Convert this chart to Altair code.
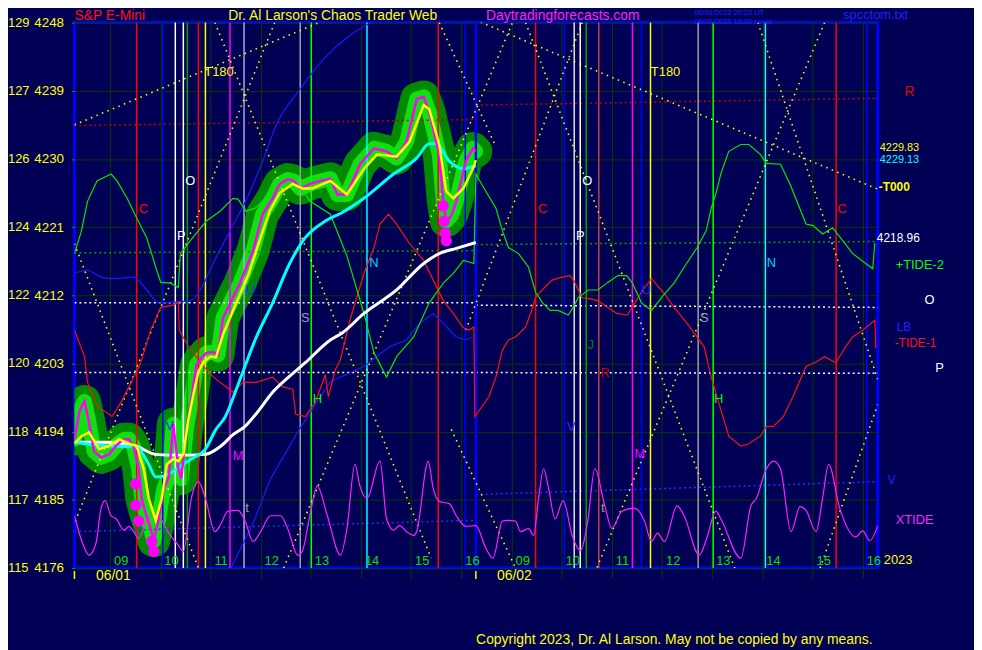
import altair as alt
import pandas as pd

FONT = "Liberation Sans"
BG = "#000055"

# ---------------- axes ----------------
price_ticks = [4248, 4239, 4230, 4221, 4212, 4203, 4194, 4185, 4176]
alt_scale = [129, 127, 126, 124, 122, 120, 118, 117, 115]
# x = session hours: day 1 (06/01) clock hours, day 2 (06/02) clock hours + 8
hour_ticks = [9, 10, 11, 12, 13, 14, 15, 16, 17, 18, 19, 20, 21, 22, 23, 24]
hour_labels = ["09", "10", "11", "12", "13", "14", "15", "16"] * 2
day_start = [8.29, 16.29]
day_labels = ["06/01", "06/02"]
day_label_t = [8.72, 16.71]
X_DOMAIN = [8.29, 24.30]
Y_DOMAIN = [4176, 4248]

# ---------------- price (day 1) ----------------
price_t = [8.29, 8.39, 8.49, 8.57, 8.68, 8.82, 8.98, 9.14, 9.28, 9.38, 9.47, 9.57, 9.63, 9.71, 9.81, 9.87,
           9.97, 10.07, 10.17, 10.26, 10.36, 10.42, 10.52, 10.62, 10.72, 10.82, 10.92, 11.06, 11.15, 11.25,
           11.39, 11.59, 11.85, 12.04, 12.24, 12.38, 12.54, 12.66, 12.79, 12.99, 13.19, 13.39, 13.53, 13.72,
           13.98, 14.26, 14.51, 14.71, 14.91, 15.11, 15.25, 15.36, 15.56, 15.64, 15.70, 15.80, 15.90, 16.09,
           16.23, 16.29]
price_v = [4193.0, 4196.7, 4198.0, 4195.6, 4191.4, 4190.6, 4191.0, 4192.3, 4193.0, 4193.0, 4192.0, 4189.1,
           4185.2, 4183.2, 4181.2, 4179.6, 4182.5, 4186.5, 4188.0, 4195.0, 4189.1, 4187.8, 4194.3, 4198.3,
           4202.8, 4203.7, 4204.4, 4204.5, 4204.1, 4209.0, 4210.9, 4213.6, 4217.9, 4222.7, 4224.8, 4226.7,
           4227.3, 4227.1, 4226.1, 4226.7, 4227.1, 4227.4, 4225.3, 4225.3, 4229.3, 4231.4, 4231.0, 4230.1,
           4232.3, 4237.9, 4238.2, 4236.2, 4230.6, 4224.4, 4221.8, 4222.5, 4224.4, 4229.7, 4231.4, 4231.0]

# smoothed price (yellow)
smooth_t = [8.29, 8.43, 8.58, 8.78, 8.98, 9.18, 9.38, 9.53, 9.67, 9.77, 9.91, 10.03, 10.13, 10.26, 10.36,
            10.46, 10.56, 10.66, 10.76, 10.86, 11.00, 11.11, 11.25, 11.45, 11.75, 11.98, 12.18, 12.38, 12.64,
            12.83, 13.03, 13.39, 13.72, 14.06, 14.32, 14.71, 14.97, 15.25, 15.36, 15.56, 15.70, 15.84, 16.04,
            16.23, 16.29]
smooth_v = [4192.4, 4193.4, 4193.9, 4191.7, 4192.1, 4193.0, 4192.4, 4192.1, 4189.1, 4185.2, 4182.3, 4185.2,
            4189.7, 4190.4, 4190.1, 4191.0, 4195.6, 4198.9, 4201.9, 4203.2, 4203.9, 4203.8, 4206.8, 4210.0,
            4214.6, 4219.2, 4223.1, 4225.5, 4226.7, 4226.1, 4226.1, 4227.1, 4225.3, 4228.7, 4230.6, 4230.3,
            4232.3, 4237.1, 4236.6, 4231.9, 4225.7, 4224.8, 4226.1, 4228.7, 4229.83]

# cyan average
cyan_t = [8.29, 8.98, 9.51, 9.77, 9.91, 10.17, 10.46, 10.62, 10.90, 11.11, 11.29, 11.55, 11.91, 12.24, 12.58,
          12.89, 13.29, 13.62, 14.06, 14.65, 15.11, 15.36, 15.50, 15.76, 16.04, 16.29]
cyan_v = [4192.6, 4192.1, 4192.0, 4189.7, 4188.0, 4188.4, 4189.7, 4190.4, 4191.7, 4194.3, 4195.9, 4200.2,
          4206.4, 4211.0, 4216.2, 4219.6, 4221.8, 4222.9, 4224.8, 4228.0, 4230.1, 4232.0, 4232.0, 4229.7,
          4228.7, 4229.13]

# white average
white_t = [8.29, 8.98, 9.51, 9.91, 10.17, 10.56, 10.90, 11.21, 11.45, 11.69, 11.94, 12.24, 12.54, 12.89,
           13.39, 13.62, 14.06, 14.71, 15.25, 15.56, 15.90, 16.29]
white_v = [4192.6, 4192.6, 4192.1, 4191.0, 4190.9, 4190.9, 4191.0, 4192.1, 4193.6, 4194.7, 4196.6, 4199.2,
           4201.1, 4203.1, 4206.1, 4207.0, 4209.6, 4212.7, 4216.2, 4217.5, 4218.2, 4218.96]

# +TIDE-2 (green)
tide2_t = [8.29, 8.43, 8.55, 8.74, 9.02, 9.14, 9.34, 9.53, 9.73, 9.93, 10.01, 10.21, 10.36, 10.40, 10.60,
           10.92, 11.19, 11.45, 11.55, 11.71, 11.89, 12.24, 12.64, 12.99, 13.39, 13.72, 14.06, 14.26, 14.51,
           14.71, 15.05, 15.36, 15.64, 15.84, 16.04, 16.25, 16.29, 16.49, 16.69, 16.82, 16.94, 17.14, 17.34,
           17.48, 17.62, 17.77, 17.93, 18.13, 18.23, 18.33, 18.53, 18.72, 18.92, 19.12, 19.30, 19.41, 19.59,
           19.79, 20.05, 20.24, 20.44, 20.70, 20.88, 20.98, 21.07, 21.17, 21.33, 21.57, 21.73, 21.96, 22.08,
           22.36, 22.55, 22.87, 23.01, 23.20, 23.40, 23.60, 23.80, 24.06, 24.20, 24.24]
tide2_v = [4217.5, 4220.5, 4224.4, 4227.1, 4228.0, 4227.1, 4224.8, 4222.2, 4219.6, 4215.3, 4213.7, 4213.6,
           4213.0, 4217.5, 4219.2, 4221.8, 4223.1, 4224.8, 4224.7, 4223.1, 4223.5, 4225.7, 4227.7, 4224.4,
           4222.7, 4217.2, 4209.6, 4204.4, 4201.2, 4203.9, 4206.5, 4211.0, 4213.6, 4214.9, 4216.6, 4216.2,
           4228.0, 4225.7, 4223.5, 4220.5, 4218.3, 4217.5, 4215.7, 4212.4, 4211.0, 4210.0, 4210.0, 4209.4,
           4210.4, 4211.7, 4212.7, 4212.7, 4213.7, 4214.6, 4214.6, 4213.6, 4211.0, 4210.0, 4212.2, 4213.6,
           4215.7, 4218.3, 4220.5, 4223.5, 4225.3, 4228.0, 4231.0, 4231.9, 4231.9, 4230.6, 4229.4, 4229.3,
           4226.7, 4221.4, 4221.2, 4220.1, 4220.9, 4219.2, 4217.5, 4216.2, 4215.5, 4218.9]

# -TIDE-1 (red)
tide1_t = [8.29, 8.49, 8.55, 8.74, 9.04, 9.22, 9.42, 9.61, 9.81, 10.01, 10.26, 10.36, 10.38, 10.52, 10.80,
           11.06, 11.45, 11.65, 11.91, 12.24, 12.44, 12.64, 12.70, 12.89, 13.09, 13.29, 13.35, 13.49, 13.59,
           13.78, 14.06, 14.26, 14.38, 14.55, 14.71, 14.97, 15.25, 15.44, 15.64, 15.84, 16.04, 16.15, 16.25,
           16.27, 16.55, 16.69, 16.82, 16.94, 17.08, 17.28, 17.38, 17.48, 17.61, 17.81, 18.01, 18.17, 18.27,
           18.40, 18.52, 18.72, 18.92, 19.10, 19.31, 19.45, 19.59, 19.79, 20.05, 20.24, 20.50, 20.84, 20.98,
           21.17, 21.33, 21.57, 21.73, 21.96, 22.08, 22.22, 22.42, 22.61, 22.87, 23.07, 23.24, 23.46, 23.66,
           23.80, 24.00, 24.24, 24.26]
tide1_v = [4207.4, 4203.9, 4200.5, 4197.4, 4196.0, 4197.9, 4200.5, 4203.1, 4207.4, 4210.4, 4210.7, 4211.1,
           4207.4, 4205.7, 4203.1, 4201.2, 4199.2, 4200.5, 4200.5, 4201.2, 4199.9, 4199.6, 4196.3, 4196.0,
           4197.9, 4201.5, 4198.6, 4202.2, 4203.5, 4208.7, 4214.9, 4218.3, 4221.4, 4222.7, 4221.4, 4218.8,
           4216.6, 4214.0, 4211.3, 4209.6, 4207.7, 4207.4, 4207.8, 4196.0, 4198.6, 4201.2, 4204.8, 4206.1,
           4206.5, 4207.8, 4209.6, 4211.7, 4212.7, 4214.0, 4214.4, 4214.6, 4213.6, 4211.7, 4211.6, 4211.3,
           4210.4, 4209.6, 4209.4, 4210.9, 4212.4, 4214.2, 4212.2, 4210.4, 4208.3, 4205.2, 4201.2, 4196.9,
           4193.4, 4192.1, 4192.4, 4193.4, 4194.7, 4194.7, 4196.0, 4198.6, 4202.6, 4203.2, 4203.9, 4203.1,
           4205.2, 4206.5, 4207.4, 4208.7, 4205.0]

# blue lines (day 1)
blue1_t = [8.29, 8.55, 8.82, 9.08, 9.47, 9.73, 9.97, 10.26, 10.60, 10.80, 11.06, 11.39, 11.75, 12.04, 12.34,
           12.74, 13.33, 13.72, 14.12, 14.51]
blue1_v = [4214.9, 4215.3, 4214.4, 4214.2, 4214.4, 4212.7, 4211.0, 4211.1, 4211.3, 4212.7, 4216.3, 4220.5,
           4225.1, 4229.7, 4234.9, 4238.8, 4243.7, 4246.0, 4247.7, 4249.0]
blue2_t = [11.41, 11.85, 12.20, 12.77, 13.39, 14.06, 14.57, 14.91, 15.17, 15.44, 15.64, 15.90, 16.09, 16.23]
blue2_v = [4176.0, 4181.9, 4187.8, 4194.3, 4200.6, 4202.6, 4205.2, 4206.1, 4208.3, 4209.6, 4208.3, 4206.5,
           4206.1, 4206.5]

# XTIDE (magenta, lower)
xtide_t = [8.29, 8.45, 8.58, 8.72, 8.82, 8.90, 9.02, 9.12, 9.28, 9.38, 9.47, 9.57, 9.71, 9.87, 10.01, 10.17,
           10.36, 10.46, 10.62, 10.76, 10.90, 11.09, 11.19, 11.35, 11.55, 11.69, 11.85, 12.00, 12.20, 12.40,
           12.54, 12.74, 12.83, 12.97, 13.13, 13.33, 13.59, 13.72, 13.88, 13.98, 14.12, 14.38, 14.51, 14.65,
           14.77, 14.91, 15.05, 15.11, 15.34, 15.44, 15.56, 15.76, 15.90, 16.09, 16.29, 16.49, 16.63, 16.82,
           16.94, 17.08, 17.18, 17.34, 17.44, 17.54, 17.64, 17.73, 17.87, 18.03, 18.21, 18.37, 18.52, 18.66,
           18.86, 19.00, 19.20, 19.45, 19.65, 19.79, 19.91, 20.05, 20.30, 20.44, 20.74, 20.90, 21.07, 21.17,
           21.57, 21.77, 21.88, 22.08, 22.22, 22.36, 22.57, 22.75, 22.87, 23.07, 23.20, 23.32, 23.54, 23.86,
           24.00, 24.14, 24.30]
xtide_v = [4182.9, 4179.3, 4177.7, 4179.3, 4183.9, 4184.9, 4182.9, 4182.5, 4181.0, 4181.5, 4180.8, 4179.9,
           4181.9, 4183.2, 4182.5, 4180.6, 4179.0, 4178.2, 4185.2, 4187.4, 4185.2, 4180.8, 4181.6, 4183.5,
           4183.6, 4182.2, 4179.5, 4180.8, 4182.9, 4182.9, 4181.2, 4177.7, 4178.2, 4182.5, 4186.8, 4182.9,
           4177.7, 4181.2, 4189.7, 4186.8, 4185.2, 4190.1, 4182.5, 4181.0, 4181.6, 4180.8, 4180.3, 4180.8,
           4190.1, 4186.5, 4184.8, 4184.5, 4182.9, 4181.5, 4181.6, 4178.6, 4177.3, 4182.2, 4182.3, 4182.2,
           4180.8, 4181.2, 4180.3, 4185.2, 4189.1, 4186.8, 4182.5, 4184.9, 4180.3, 4178.3, 4182.2, 4189.1,
           4184.2, 4181.2, 4183.5, 4183.9, 4182.2, 4179.5, 4180.6, 4179.5, 4184.2, 4182.9, 4177.7, 4180.1,
           4183.5, 4182.5, 4177.3, 4184.2, 4185.2, 4189.1, 4190.1, 4189.1, 4180.8, 4184.1, 4183.6, 4180.8,
           4185.2, 4189.7, 4183.9, 4180.1, 4180.9, 4179.6, 4181.6]

# magenta marker dots at the lows
dot_t = [9.51, 9.51, 9.57, 9.83, 9.87, 15.64, 15.66, 15.68, 15.70]
dot_v = [4187.1, 4184.3, 4182.2, 4179.5, 4178.2, 4223.8, 4221.8, 4220.2, 4219.2]

# horizontal dotted levels (per day)
lvl_id = ["R1", "R1", "R2", "R2", "G1", "G1", "G2", "G2", "O1", "O1", "O2", "O2", "P1", "P1", "P2", "P2",
          "V1", "V1", "V2", "V2"]
lvl_col = ["#c00000"] * 4 + ["#00a000"] * 4 + ["#ffffff"] * 8 + ["#2030ff"] * 4
lvl_t = [8.29, 16.29, 16.29, 24.30] * 5
lvl_v = [4234.4, 4235.2, 4237.1, 4238.0, 4217.6, 4217.9, 4218.7, 4219.1, 4211.0, 4211.0, 4210.7, 4210.4,
         4201.8, 4201.8, 4201.8, 4201.7, 4180.8, 4182.3, 4185.7, 4187.4]

# yellow dotted angle lines
ang_id = ["T180"] * 3 + ["a", "a", "b", "b", "c", "c", "d", "d", "e", "e", "f", "f", "g", "g",
                         "h1", "h1", "h2", "h2", "i", "i", "j", "j"]
ang_t = [8.29, 14.79, 24.30, 11.09, 15.40, 12.28, 8.29, 8.29, 10.76, 12.46, 17.02, 15.56, 16.69,
         17.28, 21.45, 18.41, 16.09, 21.91, 24.30, 23.24, 18.70, 15.80, 17.08, 23.15, 24.30]
ang_v = [4234.5, 4252.5, 4226.0, 4248.0, 4177.3, 4248.0, 4181.9, 4218.8, 4176.0, 4176.0, 4248.0, 4248.0,
         4231.6, 4248.0, 4176.0, 4248.0, 4207.4, 4248.0, 4200.9, 4248.0, 4176.0, 4194.3, 4176.0, 4176.0,
         4197.6]

# vertical event lines
vl_t = [9.53, 10.05, 10.30, 10.46, 10.54, 10.76, 10.90, 11.39, 11.67, 12.79, 13.01, 14.12, 15.54, 16.08,
        17.48, 18.05, 18.25, 18.37, 18.49, 18.74, 19.41, 19.59, 19.77, 20.72, 21.02, 22.06, 23.47, 24.08]
vl_col = ["#ff0000", "#0000ff", "#ffffff", "#ffffff", "#00a000", "#ff0000", "#ffff00", "#ff00ff", "#a8a8e0",
          "#a0a0a0", "#00ff00", "#00ffff", "#ff0000", "#0000ff",
          "#ff0000", "#0000ff", "#e0e0ff", "#ffffff", "#00a000", "#c04040", "#ff00ff", "#0000ff", "#ffff00",
          "#a0a0a0", "#00ff00", "#00ffff", "#ff0000", "#0000ff"]

# event letters
ev_txt = ["C", "C", "C", "O", "O", "P", "P", "S", "S", "N", "N", "H", "H", "M", "M", "t", "t", "J", "R",
          "V", "V", "U", "U", "T180", "T180"]
ev_col = ["#ff0000"] * 3 + ["#ffffff"] * 4 + ["#a0a0c0"] * 2 + ["#00d0ff"] * 2 + ["#00ff00"] * 2 + \
         ["#ff00ff"] * 2 + ["#a0a0a0"] * 2 + ["#008000", "#c00000"] + ["#2030ff"] * 4 + ["#ffff00"] * 2
ev_t = [9.67, 17.62, 23.59, 10.60, 18.51, 10.42, 18.37, 12.89, 20.84, 14.26, 22.18, 13.13, 21.13, 11.55,
        19.56, 11.73, 18.82, 18.58, 18.86, 10.19, 18.19, 11.79, 19.69, 11.17, 20.07]
ev_v = [4223.4, 4223.4, 4223.4, 4227.1, 4227.1, 4219.8, 4219.8, 4209.0, 4209.0, 4216.2, 4216.2, 4198.3,
        4198.3, 4190.8, 4191.0, 4183.9, 4183.9, 4205.4, 4201.8, 4194.7, 4194.6, 4212.7, 4212.7, 4241.5,
        4241.5]

# ---------------- encodings ----------------
XS = alt.Scale(domain=X_DOMAIN, nice=False, zero=False)
YS = alt.Scale(domain=Y_DOMAIN, nice=False, zero=False)
X_AXIS = alt.Axis(values=hour_ticks, grid=True, gridColor="#003c00", gridWidth=1, labels=False,
                  domain=False, ticks=True, tickColor="#003c00", tickSize=10, title=None)
Y_AXIS = alt.Axis(values=price_ticks, grid=True, gridColor="#003c00", gridWidth=1, domain=False,
                  ticks=True, tickColor="#00a000", tickSize=3, labelColor="#ffff00", labelFont=FONT,
                  labelFontSize=13.5, labelPadding=8, format="d", title=None)
X_ENC = alt.X("t:Q", scale=XS, axis=X_AXIS)
Y_ENC = alt.Y("p:Q", scale=YS, axis=Y_AXIS)


def frame(t, p, **extra):
    d = {"t": t, "p": p, "i": list(range(len(t)))}
    d.update(extra)
    return pd.DataFrame(d)


def series(t, p, color, width, **kw):
    return alt.Chart(frame(t, p)).mark_line(color=color, strokeWidth=width, clip=True, **kw).encode(
        x=X_ENC, y=Y_ENC, order="i:Q")


def note(text, px, py, color, size=13, align="left", weight="normal"):
    return alt.Chart(pd.DataFrame({"s": [text]})).mark_text(
        align=align, baseline="middle", color=color, fontSize=size, font=FONT, fontWeight=weight
    ).encode(x=alt.value(px), y=alt.value(py), text="s:N")


layers = []

# price glow
layers.append(series(price_t, price_v, "#008a00", 33, strokeCap="round", strokeJoin="round"))
layers.append(series(price_t, price_v, "#10e010", 15, strokeCap="round", strokeJoin="round"))

# dotted levels
layers.append(alt.Chart(frame(lvl_t, lvl_v, id=lvl_id, c=lvl_col)).mark_line(
    strokeWidth=1.5, strokeDash=[2, 3], clip=True).encode(
    x=X_ENC, y=Y_ENC, detail="id:N", color=alt.Color("c:N", scale=None), order="i:Q"))

# vertical event lines
layers.append(alt.Chart(pd.DataFrame({"t": vl_t, "c": vl_col})).mark_rule(strokeWidth=1.5).encode(
    x=X_ENC, color=alt.Color("c:N", scale=None)))
# day boundary
layers.append(alt.Chart(pd.DataFrame({"t": [day_start[1]]})).mark_rule(
    strokeWidth=2.5, color="#0000ff").encode(x=X_ENC))

# yellow dotted angles
layers.append(alt.Chart(frame(ang_t, ang_v, id=ang_id)).mark_line(
    color="#ffff00", strokeWidth=1.6, strokeDash=[1.5, 4.5], clip=True).encode(
    x=X_ENC, y=Y_ENC, detail="id:N", order="i:Q"))

# cycle lines
layers.append(series(blue1_t, blue1_v, "#1a1aff", 1.2, interpolate="monotone"))
layers.append(series(blue2_t, blue2_v, "#1a1aff", 1.2))
layers.append(series(tide1_t, tide1_v, "#ff1010", 1.2))
layers.append(series(tide2_t, tide2_v, "#00e800", 1.2))
layers.append(series(xtide_t, xtide_v, "#ff20ff", 1.2, interpolate="monotone"))

# averages
layers.append(series(white_t, white_v, "#ffffff", 3, interpolate="monotone"))
layers.append(series(cyan_t, cyan_v, "#00ffff", 3, interpolate="monotone"))

# marker dots
layers.append(alt.Chart(frame(dot_t, dot_v)).mark_circle(color="#ff00ff", size=130, opacity=1).encode(
    x=X_ENC, y=Y_ENC))

# price & smoothed price
layers.append(series(price_t, price_v, "#ff00ff", 2.5))
layers.append(series(smooth_t, smooth_v, "#ffff00", 2.5))

# event letters
layers.append(alt.Chart(pd.DataFrame({"t": ev_t, "p": ev_v, "s": ev_txt, "c": ev_col})).mark_text(
    font=FONT, fontSize=13, align="center", baseline="middle").encode(
    x=X_ENC, y=Y_ENC, text="s:N", color=alt.Color("c:N", scale=None)))

# hour labels
layers.append(alt.Chart(pd.DataFrame({"t": hour_ticks, "s": hour_labels})).mark_text(
    font=FONT, fontSize=13, color="#00e000", align="left", baseline="middle", dx=4).encode(
    x=X_ENC, y=alt.value(543), text="s:N"))

# left scale numbers
layers.append(alt.Chart(pd.DataFrame({"p": price_ticks, "s": [str(v) for v in alt_scale]})).mark_text(
    font=FONT, fontSize=13, color="#ffff00", align="left", baseline="middle").encode(
    x=alt.value(-67), y=Y_ENC, text="s:N"))

# day labels and day-start ticks
layers.append(alt.Chart(pd.DataFrame({"t": day_label_t, "s": day_labels})).mark_text(
    font=FONT, fontSize=14, color="#ffff00", align="left", baseline="middle").encode(
    x=X_ENC, y=alt.value(558), text="s:N"))
layers.append(alt.Chart(pd.DataFrame({"t": day_start})).mark_rule(color="#ffff00", strokeWidth=1.5).encode(
    x=X_ENC, y=alt.value(553), y2=alt.value(561)))

# titles
layers += [
    note("S&P E-Mini", 0, -7, "#ff1010", 14),
    note("Dr. Al Larson's Chaos Trader Web", 155, -7, "#ffff00", 14),
    note("Daytradingforecasts.com", 415, -7, "#ff20ff", 14),
    note("06/01/2023 20:20 UT", 625, -10, "#2020ff", 7.5),
    note("06/01/2023 15:20 Local", 625, -1, "#2020ff", 7.5),
    note("spcctom.txt", 775, -8, "#2020ff", 13),
    note("Copyright 2023, Dr. Al Larson. May not be copied by any means.", 405, 623, "#ffff00", 14),
]

# right-side labels
layers += [
    note("R", 837, 70, "#e00000", 14),
    note("4229.83", 812, 127, "#ffff00", 11),
    note("4229.13", 812, 139, "#00ffff", 11),
    note("-T000", 811, 166, "#ffff00", 12, weight="bold"),
    note("4218.96", 809, 217, "#ffffff", 12),
    note("+TIDE-2", 828, 245, "#00ff00", 13),
    note("O", 857, 280, "#ffffff", 13),
    note("LB", 829, 307, "#2020ff", 12),
    note("-TIDE-1", 827, 323, "#ff1010", 12),
    note("P", 868, 348, "#ffffff", 13),
    note("V", 820, 461, "#2020ff", 12),
    note("XTIDE", 828, 502, "#ff20ff", 13),
    note("2023", 816, 542, "#ffff00", 13),
]

chart = alt.layer(*layers).properties(
    width=810, height=550,
    autosize=alt.AutoSizeParams(type="none"),
    padding={"left": 67, "top": 12, "right": 97, "bottom": 80},
    background=BG,
).configure_view(stroke="#0000ff", strokeWidth=3, fill=BG)

chart.save("out.html", embed_options={"renderer": "svg", "actions": False})
